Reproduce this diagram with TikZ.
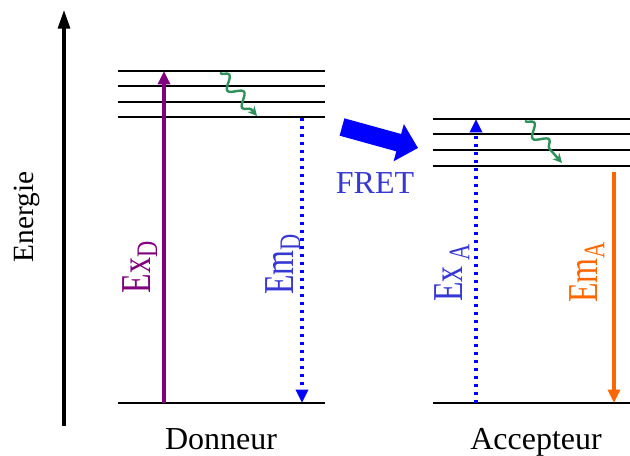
\documentclass[tikz,border=0pt]{standalone}
\usepackage{fontspec}
\setmainfont{Liberation Serif}
\usetikzlibrary{arrows.meta,decorations.pathmorphing}
\definecolor{purp}{RGB}{128,0,128}
\definecolor{bluearrow}{RGB}{0,0,255}
\definecolor{labelblue}{RGB}{55,55,210}
\definecolor{orng}{RGB}{255,102,0}
\definecolor{wavegreen}{RGB}{46,145,90}
\tikzset{
  level/.style={line width=1.6pt, black},
  tipA/.style={-{Triangle[length=10pt,width=9pt]}},
  exc/.style={line width=2.4pt},
  dotarrow/.style={line width=2.4pt, bluearrow, dash pattern=on 2.6pt off 3.4pt},
  relax/.style={wavegreen, line width=1.8pt, decorate,
    decoration={snake, amplitude=4.5pt, segment length=17pt, post length=6pt},
    -{Stealth[length=7pt,width=7pt]}},
  lbl/.style={font=\fontsize{24}{28}\selectfont, rotate=90, inner sep=0pt},
  txt/.style={font=\fontsize{24}{28}\selectfont, inner sep=0pt, anchor=base}
}
\begin{document}
\begin{tikzpicture}[x=0.75pt, y=-0.75pt]
\useasboundingbox (0,0) rectangle (630,455);
% energy axis
\coordinate (axb) at (64,426);
\coordinate (axt) at (64,10);
\draw[line width=2.4pt, -{Triangle[length=14pt,width=9pt]}] (axb) -- (axt);
\node[font=\fontsize{22}{26}\selectfont, rotate=90, inner sep=0pt] (energie) at (27,217) {Energie};
% donor levels
\foreach \y/\n in {71/d1, 86.3/d2, 102/d3, 117.3/d4, 403/d0} {
  \coordinate (\n l) at (118,\y);
  \coordinate (\n r) at (325,\y);
  \draw[level] (\n l) -- (\n r);
}
% acceptor levels
\foreach \y/\n in {119/a1, 134.3/a2, 150/a3, 165.7/a4, 403/a0} {
  \coordinate (\n l) at (433,\y);
  \coordinate (\n r) at (630,\y);
  \draw[level] (\n l) -- (\n r);
}
% donor transitions
\coordinate (exds) at (164,403);
\coordinate (exde) at (164,71);
\draw[exc, purp, tipA] (exds) -- (exde);
\coordinate (emds) at (302,118);
\coordinate (emde) at (302,403);
\draw[dotarrow, tipA] (emds) -- (emde);
\coordinate (w1s) at (220,73);
\coordinate (w1e) at (257,116);
\draw[relax] (w1s) -- (w1e);
% acceptor transitions
\coordinate (exas) at (476,403);
\coordinate (exae) at (476,119);
\draw[dotarrow, tipA] (exas) -- (exae);
\coordinate (emas) at (614,172);
\coordinate (emae) at (614,403);
\draw[exc, orng, tipA] (emas) -- (emae);
\coordinate (w2s) at (525,121);
\coordinate (w2e) at (562,163);
\draw[relax] (w2s) -- (w2e);
% FRET arrow
\coordinate (fs) at (342,127);
\coordinate (fe) at (418,148);
\draw[bluearrow, line width=13.5pt, -{Triangle[length=15pt,width=28pt]}] (fs) -- (fe);
\node[txt, labelblue] (fret) at (375,193) {FRET};
% labels
\node[lbl, purp] (exd) at (140,267) {\scalebox{1}[1.33]{Ex\textsubscript{D}}};
\node[lbl, labelblue] (emd) at (283,264) {\scalebox{1}[1.33]{Em\textsubscript{D}}};
\node[lbl, labelblue] (exa) at (452,273) {\scalebox{1}[1.33]{Ex\,\textsubscript{A}}};
\node[lbl, orng] (ema) at (587,272) {\scalebox{1}[1.33]{Em\textsubscript{A}}};
\node[txt] (don) at (221,449) {Donneur};
\node[txt] (acc) at (536,449) {Accepteur};
\end{tikzpicture}
\end{document}
